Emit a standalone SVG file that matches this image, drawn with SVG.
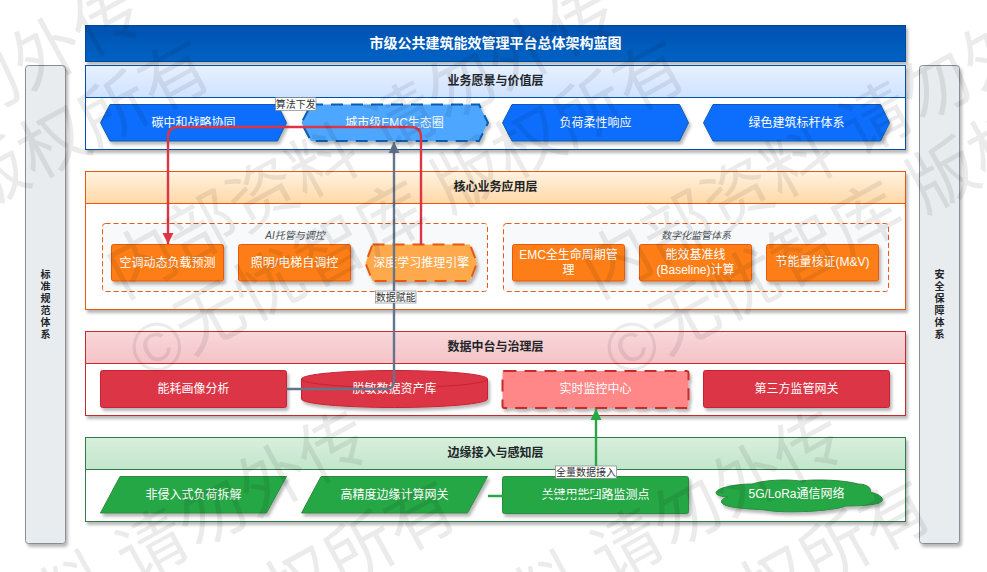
<svg xmlns="http://www.w3.org/2000/svg" width="987" height="572" viewBox="0 0 987 572">
<style>
text{font-family:"Liberation Sans","Noto Sans CJK SC",sans-serif;text-anchor:middle;dominant-baseline:central}
.t{font-size:12px;fill:#fff}
.h{font-size:12px;font-weight:bold;fill:#212529}
.v{font-size:10px;font-weight:bold;fill:#212529}
.g{font-size:10px;font-style:italic;fill:#495057}
.l{font-size:10px;fill:#333}
.lb{fill:#fff;stroke:#6c757d;stroke-width:.6}
.w{font-size:69px;fill:#000;fill-opacity:.08;text-anchor:start;dominant-baseline:auto}
.box{fill:#fff}
.sh{filter:url(#s)}
.b1{fill:#0d6efd;stroke:#0b5cad}
.b2{fill:#4da6ff;stroke:#0b5cad;stroke-width:2;stroke-dasharray:12 8}
.o1{fill:#fd7e14;stroke:#e8590c}
.o2{fill:#ffa94d;stroke:#e8590c;stroke-width:2;stroke-dasharray:12 8}
.r1{fill:#dc3545;stroke:#c82333}
.r2{fill:#ff8787;stroke:#c92a2a;stroke-width:2;stroke-dasharray:12 8}
.g1{fill:#28a745;stroke:#2b8a3e}
.dash{fill:#f8f9fa;stroke:#e8590c;stroke-dasharray:5 3}
.e{fill:none;stroke-width:2.4}
</style>
<defs>
<linearGradient id="gt" x1="0" y1="0" x2="0" y2="1"><stop offset="0" stop-color="#0052b0"/><stop offset="1" stop-color="#0062c4"/></linearGradient>
<linearGradient id="g1" x1="0" y1="0" x2="0" y2="1"><stop offset="0" stop-color="#e7f1ff"/><stop offset="1" stop-color="#cfe2ff"/></linearGradient>
<linearGradient id="g2" x1="0" y1="0" x2="0" y2="1"><stop offset="0" stop-color="#fff3e0"/><stop offset="1" stop-color="#ffd8a8"/></linearGradient>
<linearGradient id="g3" x1="0" y1="0" x2="0" y2="1"><stop offset="0" stop-color="#f8d7da"/><stop offset="1" stop-color="#f5c2c7"/></linearGradient>
<linearGradient id="g4" x1="0" y1="0" x2="0" y2="1"><stop offset="0" stop-color="#d8efdd"/><stop offset="1" stop-color="#c3e6cb"/></linearGradient>
<filter id="s" x="-10%" y="-20%" width="125%" height="150%"><feDropShadow dx="2" dy="3" stdDeviation="1.8" flood-color="#000" flood-opacity=".28"/></filter>
<marker id="ar" markerUnits="userSpaceOnUse" markerWidth="12" markerHeight="12" refX="11" refY="6" orient="auto"><path d="M0 .5L11 6L0 11.5Z" fill="#dc3545"/></marker>
<marker id="ag" markerUnits="userSpaceOnUse" markerWidth="12" markerHeight="12" refX="11" refY="6" orient="auto"><path d="M0 .5L11 6L0 11.5Z" fill="#28a745"/></marker>
<marker id="as" markerUnits="userSpaceOnUse" markerWidth="12" markerHeight="12" refX="11" refY="6" orient="auto"><path d="M0 .5L11 6L0 11.5Z" fill="#64748b"/></marker>
</defs>
<rect width="987" height="572" fill="#fff"/>

<g id="side-left"><rect class="sh" x="25.5" y="65.5" width="40" height="478" rx="3" fill="#e9ecef" stroke="#868e96"/>
<text class="v" x="45.5" y="274">标</text><text class="v" x="45.5" y="286">准</text><text class="v" x="45.5" y="298">规</text><text class="v" x="45.5" y="310">范</text><text class="v" x="45.5" y="322">体</text><text class="v" x="45.5" y="334">系</text></g>
<g id="side-right"><rect class="sh" x="919.5" y="65.5" width="40" height="478" rx="3" fill="#e9ecef" stroke="#868e96"/>
<text class="v" x="939.5" y="274">安</text><text class="v" x="939.5" y="286">全</text><text class="v" x="939.5" y="298">保</text><text class="v" x="939.5" y="310">障</text><text class="v" x="939.5" y="322">体</text><text class="v" x="939.5" y="334">系</text></g>

<g id="title"><rect class="sh" x="85.5" y="25.5" width="820" height="36" fill="url(#gt)" stroke="#004a9f"/><text x="495.5" y="42.5" style="font-size:14px;font-weight:bold;fill:#fff">市级公共建筑能效管理平台总体架构蓝图</text></g>

<g id="layer-vision"><rect class="box sh" x="85.5" y="65.5" width="820" height="84" stroke="#0050a8"/><rect x="85.5" y="65.5" width="820" height="32" fill="url(#g1)" stroke="#0050a8"/><text class="h" x="495.5" y="81">业务愿景与价值层</text></g>
<g id="layer-app"><rect class="box sh" x="85.5" y="171.5" width="820" height="138" stroke="#e8590c"/><rect x="85.5" y="171.5" width="820" height="32" fill="url(#g2)" stroke="#e8590c"/><text class="h" x="495.5" y="187">核心业务应用层</text></g>
<g id="layer-data"><rect class="box sh" x="85.5" y="331.5" width="820" height="84" stroke="#c92a2a"/><rect x="85.5" y="331.5" width="820" height="32" fill="url(#g3)" stroke="#c92a2a"/><text class="h" x="495.5" y="347">数据中台与治理层</text></g>
<g id="layer-edge"><rect class="box sh" x="85.5" y="437.5" width="820" height="84" stroke="#2e7d46"/><rect x="85.5" y="437.5" width="820" height="32" fill="url(#g4)" stroke="#2e7d46"/><text class="h" x="495.5" y="453">边缘接入与感知层</text></g>

<g id="group-ai"><rect class="dash" x="102.5" y="223.5" width="385" height="68" rx="3"/><text class="g" x="295" y="235.5">AI托管与调控</text></g>
<g id="group-digital"><rect class="dash" x="503.5" y="223.5" width="385" height="68" rx="3"/><text class="g" x="696" y="235.5">数字化监管体系</text></g>

<g id="n-carbon"><path class="b1 sh" d="M110 104.500H277.500L286.500 122.800L277.500 141H110L100.500 122.800Z"/><text class="t" x="193.500" y="122.500">碳中和战略协同</text></g>
<g id="n-emc"><path class="b2 sh" d="M311 104.500H479L488 122.800L479 141H311L301.500 122.800Z"/><text class="t" x="394.500" y="122.500">城市级EMC生态圈</text></g>
<g id="n-flex"><path class="b1 sh" d="M512 104.500H679.500L688.500 122.800L679.500 141H512L502.500 122.800Z"/><text class="t" x="595.500" y="122.500">负荷柔性响应</text></g>
<g id="n-green"><path class="b1 sh" d="M713 104.500H880.500L889.500 122.800L880.500 141H713L703.500 122.800Z"/><text class="t" x="796.500" y="122.500">绿色建筑标杆体系</text></g>

<g id="n-hvac"><rect class="o1 sh" x="111.500" y="244.500" width="112" height="36.500" rx="2"/><text class="t" x="167.500" y="262.500">空调动态负载预测</text></g>
<g id="n-light"><rect class="o1 sh" x="238.500" y="244.500" width="112" height="36.500" rx="2"/><text class="t" x="294.500" y="262.500">照明/电梯自调控</text></g>
<g id="n-dl"><path class="o2 sh" d="M372.500 244.500H470L477 263L470 281H372.500L365.500 263Z"/><text class="t" x="421.300" y="262.500">深度学习推理引擎</text></g>
<g id="n-life"><rect class="o1 sh" x="512.500" y="244.500" width="112" height="36.500" rx="2"/><text class="t" x="568.500" y="255">EMC全生命周期管</text><text class="t" x="568.500" y="270">理</text></g>
<g id="n-base"><rect class="o1 sh" x="639.500" y="244.500" width="112" height="36.500" rx="2"/><text class="t" x="695.500" y="255">能效基准线</text><text class="t" x="695.500" y="270">(Baseline)计算</text></g>
<g id="n-mv"><rect class="o1 sh" x="766.500" y="244.500" width="112" height="36.500" rx="2"/><text class="t" x="822.500" y="262">节能量核证(M&amp;V)</text></g>

<g id="n-profile"><rect class="r1 sh" x="100.500" y="370.500" width="186" height="37" rx="2"/><text class="t" x="193.500" y="388.500">能耗画像分析</text></g>
<g id="n-asset"><path class="r1 sh" d="M301.500 379C301.500 374.300 343 370.500 394.500 370.500S487.500 374.300 487.500 379V399C487.500 403.700 446 407.500 394.500 407.500S301.500 403.700 301.500 399Z"/><path d="M301.500 379C301.500 383.700 343 387.500 394.500 387.500S487.500 383.700 487.500 379" fill="none" stroke="#c82333"/><text class="t" x="394.500" y="388.500">脱敏数据资产库</text></g>
<g id="n-monitor"><rect class="r2 sh" x="502.500" y="371" width="186" height="37" rx="2"/><text class="t" x="595.500" y="388.500">实时监控中心</text></g>
<g id="n-gateway"><rect class="r1 sh" x="703.500" y="370.500" width="186" height="37" rx="2"/><text class="t" x="796.500" y="388.500">第三方监管网关</text></g>

<g id="n-nilm"><path class="g1 sh" d="M120 476.500H286.500L266.500 513H100.500Z"/><text class="t" x="193.500" y="494.500">非侵入式负荷拆解</text></g>
<g id="n-gw"><path class="g1 sh" d="M321 476.500H487.500L467.500 513H301.500Z"/><text class="t" x="394.500" y="494.500">高精度边缘计算网关</text></g>
<g id="n-meter"><rect class="g1 sh" x="502.500" y="476.500" width="186" height="37" rx="2"/><text class="t" x="595.500" y="494.500">关键用能回路监测点</text></g>
<g id="n-net"><path class="g1 sh" d="M716 493C716 488 735 484 752 484C765 480 785 479 800 481C815 479 845 480 858 484C868 484 872 489 870 492C878 494 884 497 882 501C880 505 860 506 846 506C835 511 785 514 765 510C750 509 725 508 722 503C720 500 724 498 728 497C722 497 716 495 716 493Z"/><text class="t" x="796.500" y="494">5G/LoRa通信网络</text></g>

<g id="connectors">
<path class="e" stroke="#dc3545" marker-end="url(#ar)" d="M421 245V137Q421 127 411 127H178Q168 127 168 137V244"/>
<path class="e" stroke="#64748b" marker-end="url(#as)" d="M286.500 389H386Q394 389 394 381V142"/>
<path class="e" stroke="#28a745" marker-end="url(#ag)" d="M488 496H588Q596 496 596 488V409"/>
<g id="label-algo"><rect class="lb" x="275.500" y="97.500" width="40.500" height="13"/><text class="l" x="295.700" y="104">算法下发</text></g>
<g id="label-data"><rect class="lb" x="375.500" y="291" width="40.500" height="12"/><text class="l" x="395.700" y="297">数据赋能</text></g>
<g id="label-ingest"><rect class="lb" x="555.500" y="466" width="61" height="12.500"/><text class="l" x="586" y="472">全量数据接入</text></g>
</g>

<g id="watermark">
<text class="w" transform="translate(-352 299) rotate(-28.700)">内部资料 请勿外传</text>
<text class="w" transform="translate(123 299) rotate(-28.700)">内部资料 请勿外传</text>
<text class="w" transform="translate(598 299) rotate(-28.700)">内部资料 请勿外传</text>
<text class="w" transform="translate(-126 726) rotate(-28.700)">内部资料 请勿外传</text>
<text class="w" transform="translate(349 726) rotate(-28.700)">内部资料 请勿外传</text>
<text class="w" transform="translate(824 726) rotate(-28.700)">内部资料 请勿外传</text>
<text class="w" transform="translate(-329 380) rotate(-28.700)">©无忧智库 版权所有</text>
<text class="w" transform="translate(146 380) rotate(-28.700)">©无忧智库 版权所有</text>
<text class="w" transform="translate(621 380) rotate(-28.700)">©无忧智库 版权所有</text>
<text class="w" transform="translate(-83 820) rotate(-28.700)">©无忧智库 版权所有</text>
<text class="w" transform="translate(392 820) rotate(-28.700)">©无忧智库 版权所有</text>
</g>
</svg>
